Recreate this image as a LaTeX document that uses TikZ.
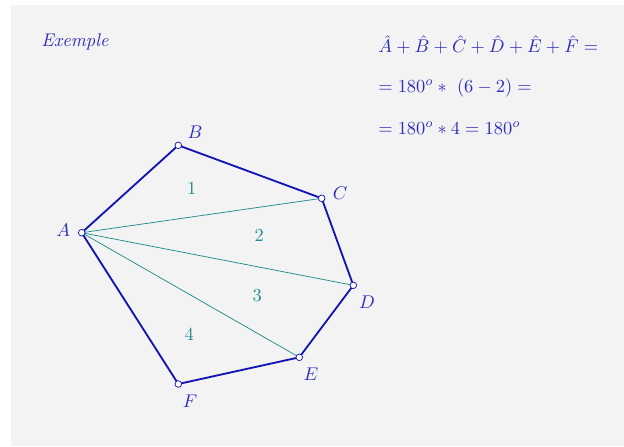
\documentclass[tikz,border=0pt]{standalone}
\usepackage{tikz}
\definecolor{fonsgris}{RGB}{243,243,243}
\definecolor{blaufort}{RGB}{20,20,180}
\definecolor{blautext}{RGB}{45,45,185}
\definecolor{verdblau}{RGB}{30,140,140}
\begin{document}
\begin{tikzpicture}[x=0.5435pt, y=-0.5435pt]
    \useasboundingbox (0,0) rectangle (624,446);
    \fill[fonsgris] (11,5) rectangle (624,446);
    \coordinate (A) at (81.7,232.7);
    \coordinate (B) at (178.3,145.3);
    \coordinate (C) at (321.7,198.3);
    \coordinate (D) at (353.3,285.3);
    \coordinate (E) at (299.3,357.3);
    \coordinate (F) at (178.3,384);
    \draw[verdblau, thin] (A) -- (C);
    \draw[verdblau, thin] (A) -- (D);
    \draw[verdblau, thin] (A) -- (E);
    \draw[blaufort, line width=1pt, line join=round] (A) -- (B) -- (C) -- (D) -- (E) -- (F) -- cycle;
    \foreach \p in {A,B,C,D,E,F}
        \draw[blaufort, fill=white, thin] (\p) circle (1.8pt);
    \node[blautext] (lA) at (63.3,230) {$A$};
    \node[blautext] (lB) at (195,132) {$B$};
    \node[blautext] (lC) at (340,193) {$C$};
    \node[blautext] (lD) at (367,302) {$D$};
    \node[blautext] (lE) at (311,374) {$E$};
    \node[blautext] (lF) at (190,401) {$F$};
    \node[verdblau] (n1) at (191.7,188.3) {1};
    \node[verdblau] (n2) at (259.3,235.3) {2};
    \node[verdblau] (n3) at (257.3,295.7) {3};
    \node[verdblau] (n4) at (189.3,334.7) {4};
    \node[blautext, right, inner sep=0pt] (ex) at (41,42) {\textit{Exemple}};
    \node[blautext, right, inner sep=0pt] (eq1) at (378,45) {$\hat{A}+\hat{B}+\hat{C}+\hat{D}+\hat{E}+\hat{F}=$};
    \node[blautext, right, inner sep=0pt] (eq2) at (378,88) {$=180^o\ast\ (6-2)=$};
    \node[blautext, right, inner sep=0pt] (eq3) at (378,128) {$=180^o\ast4=180^o$};
\end{tikzpicture}
\end{document}
